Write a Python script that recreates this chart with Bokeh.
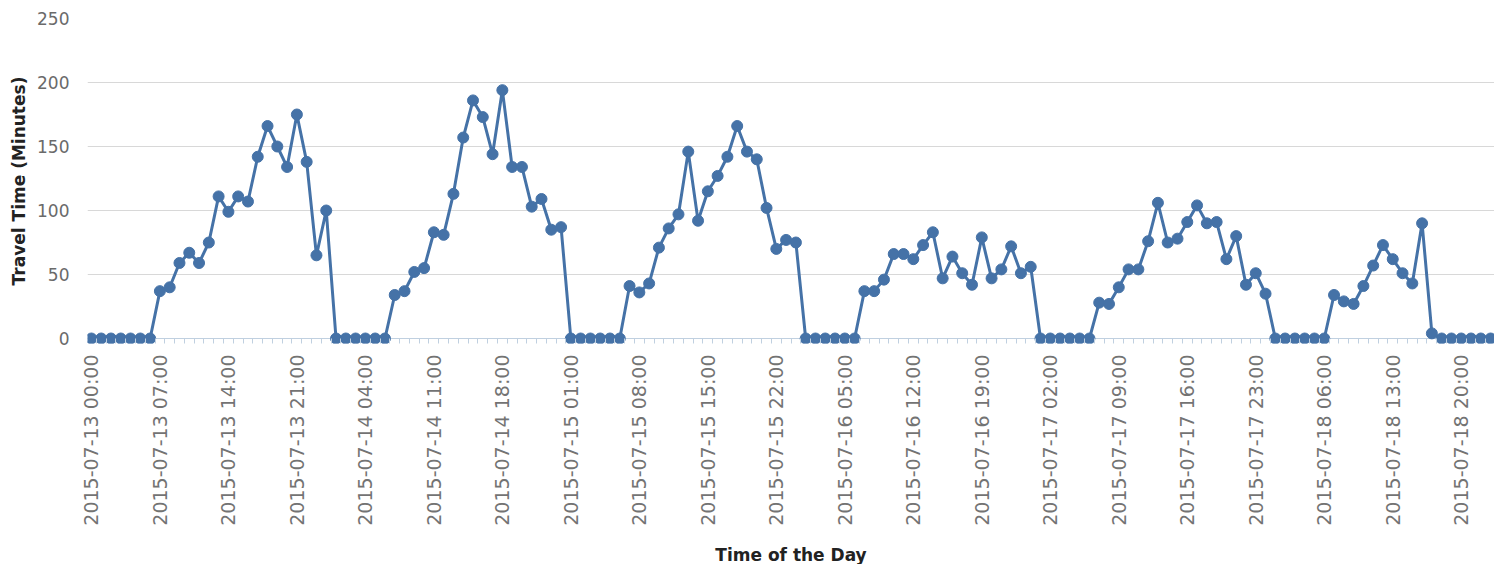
import math
import pandas as pd
from bokeh.plotting import figure
from bokeh.models import Range1d, FixedTicker, Span
from bokeh.embed import file_html
from bokeh.resources import INLINE

# ---- data (hourly travel time, minutes) ----
travel_time = [
    0, 0, 0, 0, 0, 0, 0, 37, 40, 59, 67, 59, 75, 111, 99, 111, 107, 142, 166, 150, 134, 175, 138, 65,
    100, 0, 0, 0, 0, 0, 0, 34, 37, 52, 55, 83, 81, 113, 157, 186, 173, 144, 194, 134, 134, 103, 109, 85,
    87, 0, 0, 0, 0, 0, 0, 41, 36, 43, 71, 86, 97, 146, 92, 115, 127, 142, 166, 146, 140, 102, 70, 77,
    75, 0, 0, 0, 0, 0, 0, 37, 37, 46, 66, 66, 62, 73, 83, 47, 64, 51, 42, 79, 47, 54, 72, 51,
    56, 0, 0, 0, 0, 0, 0, 28, 27, 40, 54, 54, 76, 106, 75, 78, 91, 104, 90, 91, 62, 80, 42, 51,
    35, 0, 0, 0, 0, 0, 0, 34, 29, 27, 41, 57, 73, 62, 51, 43, 90, 4, 0, 0, 0, 0, 0, 0,
]
timestamps = [t.strftime("%Y-%m-%d %H:%M")
              for t in pd.date_range("2015-07-13 00:00", periods=len(travel_time), freq="h")]
label_step = 7
y_ticks = [0, 50, 100, 150, 200, 250]

idx = list(range(len(travel_time)))

p = figure(frame_width=1407, frame_height=325,
           x_range=Range1d(-0.4, idx[-1] + 0.4), y_range=Range1d(-3.9, 250),
           output_backend="svg", toolbar_location=None,
           min_border_left=87, min_border_right=0, min_border_top=18, min_border_bottom=0)
p.outline_line_color = None
p.background_fill_color = "white"
p.border_fill_color = "white"

# grid
p.xgrid.visible = False
p.ygrid.ticker = FixedTicker(ticks=y_ticks)
p.ygrid.grid_line_color = "#D8D8D8"
p.ygrid.grid_line_width = 1

# zero axis line
zero_line = Span(location=0, dimension="width", line_color="#C0D0E0", line_width=1, level="underlay")
p.add_layout(zero_line)

# series
blue = "#4572A7"
p.line(idx, travel_time, line_color=blue, line_width=3)
p.scatter(idx, travel_time, size=11, fill_color=blue, line_color=blue)

# x axis
p.xaxis.ticker = FixedTicker(ticks=idx[::label_step], minor_ticks=[i + 0.5 for i in idx[:-1]])
p.xaxis.major_label_overrides = {i: timestamps[i] for i in idx[::label_step]}
p.xaxis.major_label_orientation = math.pi / 2
p.xaxis.axis_line_color = None
p.xaxis.major_tick_line_color = None
p.xaxis.minor_tick_line_color = "#C0D0E0"
p.xaxis.minor_tick_in = 5
p.xaxis.minor_tick_out = 0
p.xaxis.major_label_standoff = 5
p.xaxis.major_label_text_font = "DejaVu Sans"
p.xaxis.major_label_text_font_size = "19px"
p.xaxis.major_label_text_color = "#737373"
p.xaxis.axis_label = "Time of the Day"
p.xaxis.axis_label_text_font = "DejaVu Sans"
p.xaxis.axis_label_text_font_size = "17px"
p.xaxis.axis_label_text_font_style = "bold"
p.xaxis.axis_label_text_color = "#222222"
p.xaxis.axis_label_standoff = 16

# y axis
p.yaxis.ticker = FixedTicker(ticks=y_ticks)
p.yaxis.axis_line_color = None
p.yaxis.major_tick_line_color = None
p.yaxis.minor_tick_line_color = None
p.yaxis.major_label_standoff = 12
p.yaxis.major_label_text_font = "DejaVu Sans"
p.yaxis.major_label_text_font_size = "17px"
p.yaxis.major_label_text_color = "#6a6a6a"
p.yaxis.axis_label = "Travel Time (Minutes)"
p.yaxis.axis_label_text_font = "DejaVu Sans"
p.yaxis.axis_label_text_font_size = "17px"
p.yaxis.axis_label_text_font_style = "bold"
p.yaxis.axis_label_text_color = "#222222"
p.yaxis.axis_label_standoff = 5

open("out.html", "w").write(file_html(p, INLINE))
